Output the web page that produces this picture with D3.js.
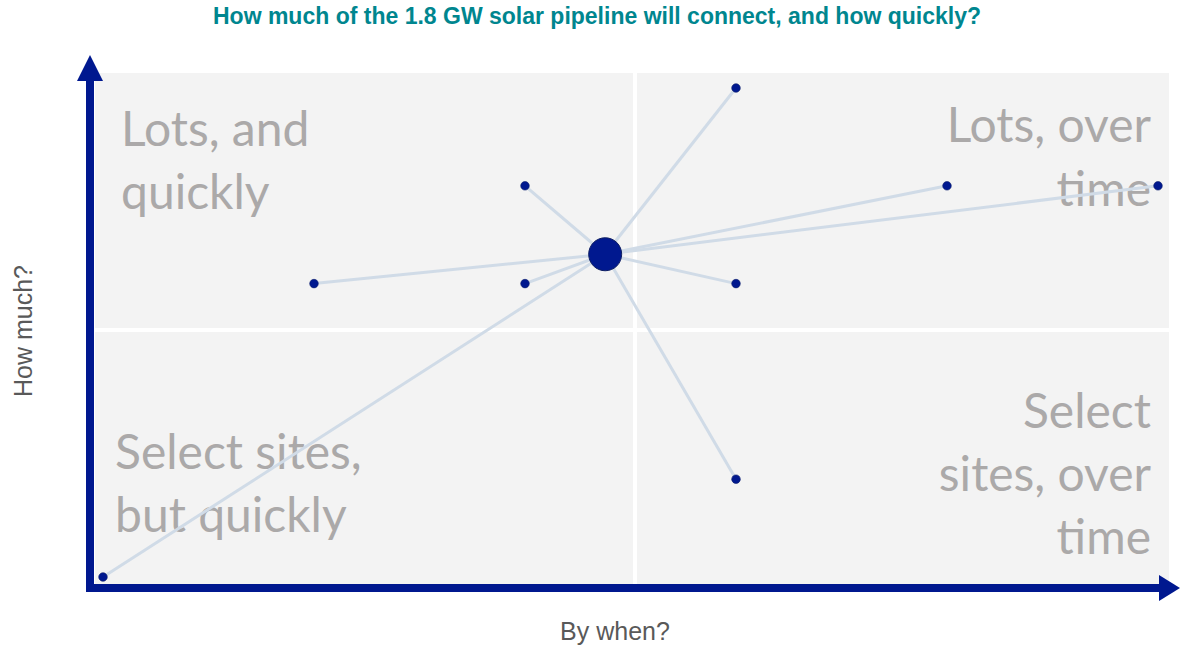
<!DOCTYPE html>
<html>
<head>
<meta charset="utf-8">
<script src="https://cdn.jsdelivr.net/npm/d3@7"></script>
<style>
  html, body { margin: 0; padding: 0; background: #ffffff; }
  svg { display: block; }
</style>
</head>
<body>
<svg id="chart" width="1180" height="650"></svg>
<script>
// Project groups: timing (by when) and volume (how much), on a 0–5 ordinal grid
const groupWhen = [3, 2, 4, 5, 1, 2, 3, 3, 0];
const groupMuch = [5, 4, 4, 4, 3, 3, 3, 1, 0];

// Pipeline-weighted centre of all groups
const hubWhen = [2.38];
const hubMuch = [3.30];

const titleText = "How much of the 1.8 GW solar pipeline will connect, and how quickly?";
const xLabel = "By when?";
const yLabel = "How much?";

// Quadrant captions, one array of lines each
const quadTopLeft = ["Lots, and", "quickly"];
const quadTopRight = ["Lots, over", "time"];
const quadBottomLeft = ["Select sites,", "but quickly"];
const quadBottomRight = ["Select", "sites, over", "time"];

const svg = d3.select("#chart");

const x = d3.scaleLinear().domain([0, 5]).range([103, 1158]);
const y = d3.scaleLinear().domain([0, 5]).range([577, 88]);

const navy = "#00188f";
const linkColor = "#d0dbe7";
const quadText = "#aba9a9";

// Plot panel split into four quadrants by thin white gutters
const panel = { left: 95, right: 1169, top: 73, bottom: 590 };
const split = { x: 635, y: 330, gap: 4 };
const quads = [
  [panel.left, panel.top, split.x - split.gap / 2, split.y - split.gap / 2],
  [split.x + split.gap / 2, panel.top, panel.right, split.y - split.gap / 2],
  [panel.left, split.y + split.gap / 2, split.x - split.gap / 2, panel.bottom],
  [split.x + split.gap / 2, split.y + split.gap / 2, panel.right, panel.bottom]
];
svg.append("g").selectAll("rect").data(quads).join("rect")
  .attr("x", d => d[0]).attr("y", d => d[1])
  .attr("width", d => d[2] - d[0]).attr("height", d => d[3] - d[1])
  .attr("fill", "#f3f3f3");

// Quadrant captions
const capFont = "Lato, 'Open Sans', sans-serif";
function caption(lines, px, py, anchor, lh) {
  const t = svg.append("text")
    .attr("font-family", capFont)
    .attr("font-size", 48)
    .attr("fill", quadText)
    .attr("text-anchor", anchor);
  lines.forEach((s, i) => {
    t.append("tspan").attr("x", px).attr("y", py + i * lh).text(s);
  });
}
caption(quadTopLeft, 121, 146, "start", 63);
caption(quadTopRight, 1151, 142, "end", 64);
caption(quadBottomLeft, 115, 469, "start", 63);
caption(quadBottomRight, 1151, 428, "end", 63);

// Links from the centre to every group
const hx = x(hubWhen[0]), hy = y(hubMuch[0]);
const pts = groupWhen.map((w, i) => ({ w, m: groupMuch[i] }));
svg.append("g").selectAll("line").data(pts).join("line")
  .attr("x1", hx).attr("y1", hy)
  .attr("x2", d => x(d.w)).attr("y2", d => y(d.m))
  .attr("stroke", linkColor).attr("stroke-width", 3);

// Group markers
svg.append("g").selectAll("circle").data(pts).join("circle")
  .attr("cx", d => x(d.w)).attr("cy", d => y(d.m))
  .attr("r", 4.3)
  .attr("fill", navy).attr("stroke", "#0b1f6b").attr("stroke-width", 0.6);

// Centre marker
svg.append("circle")
  .attr("cx", hx).attr("cy", hy).attr("r", 16.5)
  .attr("fill", navy).attr("stroke", "#0f1f63").attr("stroke-width", 1);

// Axes as heavy arrows
const axisX0 = 90, axisY0 = 588;
svg.append("line")
  .attr("x1", axisX0).attr("y1", 80).attr("x2", axisX0).attr("y2", 592)
  .attr("stroke", navy).attr("stroke-width", 8);
svg.append("line")
  .attr("x1", 86).attr("y1", axisY0).attr("x2", 1160).attr("y2", axisY0)
  .attr("stroke", navy).attr("stroke-width", 8);
svg.append("path")
  .attr("d", `M${axisX0},55 L${axisX0 + 13},81 L${axisX0 - 13},81 Z`)
  .attr("fill", navy);
svg.append("path")
  .attr("d", `M1180,${axisY0} L1159,${axisY0 - 13} L1159,${axisY0 + 13} Z`)
  .attr("fill", navy);

// Title
svg.append("text")
  .attr("x", 597).attr("y", 24)
  .attr("text-anchor", "middle")
  .attr("font-family", "'Liberation Sans', Arial, sans-serif")
  .attr("font-weight", "bold")
  .attr("font-size", 23)
  .attr("fill", "#00868f")
  .text(titleText);

// Axis titles
svg.append("text")
  .attr("x", 615).attr("y", 640)
  .attr("text-anchor", "middle")
  .attr("font-family", "'Liberation Sans', Arial, sans-serif")
  .attr("font-size", 25)
  .attr("fill", "#595959")
  .text(xLabel);
svg.append("text")
  .attr("transform", "translate(32,331) rotate(-90)")
  .attr("text-anchor", "middle")
  .attr("font-family", "'Liberation Sans', Arial, sans-serif")
  .attr("font-size", 25)
  .attr("fill", "#595959")
  .text(yLabel);
</script>
</body>
</html>
